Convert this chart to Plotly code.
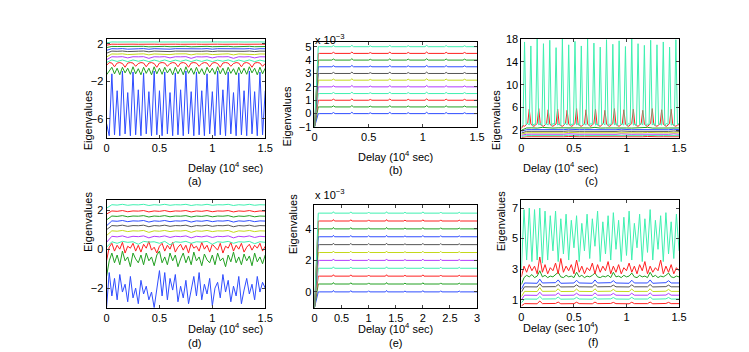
import plotly.graph_objects as go

# ---------------- colours (bottom -> top eigenvalue order) ----------------
BLUE, GREEN, RED, AQUA = "#2f4dff", "#22a022", "#ff2020", "#3ff0b0"
PURPLE, YELLOW, GRAY = "#b23cff", "#c4d81c", "#555555"
ORDER = [BLUE, GREEN, RED, AQUA, PURPLE, YELLOW, GRAY, BLUE, GREEN, RED, AQUA]

STEP_FINE = 0.025
STEP_COARSE = 0.05
STEP_C = 0.015

# ---------------- panel (a) ----------------
A_BLUE1 = [-6.5, -7.8, -1.2, -7.7, -3.0, -7.8, -0.9, -7.6, -3.2, -7.8,
           -1.0, -7.7, -2.9, -7.8, -1.1, -7.6, -3.1, -7.8, -0.9, -7.7,
           -3.0, -7.8, -1.0, -7.6, -3.2, -7.8, -1.1, -7.7, -2.9, -7.8,
           -0.9, -7.6, -3.1, -7.8, -1.0, -7.7, -3.0, -7.8, -1.2, -7.6,
           -3.1, -7.8, -0.9, -7.7, -2.9, -7.8, -1.0, -7.6, -3.2, -7.8,
           -1.1, -7.7, -3.0, -7.8, -0.9, -7.6, -3.1, -7.8, -1.0, -7.7, -3.0]
A_GREEN1 = [-1.3, -0.9, -0.5, -1.2, -0.6, -1.3, -0.5, -1.1, -0.6, -1.25,
            -0.45, -1.2, -0.65, -1.3, -0.5, -1.15, -0.6, -1.3, -0.45, -1.2,
            -0.6, -1.25, -0.5, -1.1, -0.65, -1.3, -0.5, -1.2, -0.6, -1.3,
            -0.45, -1.15, -0.6, -1.25, -0.5, -1.2, -0.65, -1.3, -0.5, -1.1,
            -0.6, -1.25, -0.45, -1.2, -0.6, -1.3, -0.5, -1.15, -0.65, -1.3,
            -0.5, -1.2, -0.6, -1.25, -0.45, -1.1, -0.6, -1.3, -0.5, -1.2, -0.6]
A_RED1 = [-0.3, 0.0, -0.05, -0.45, -0.05, 0.0, -0.1, -0.5, -0.05, 0.0, -0.05, -0.4,
          -0.1, 0.0, -0.05, -0.45, -0.05, 0.0, -0.1, -0.5, -0.05, 0.0, -0.05, -0.4,
          -0.1, 0.0, -0.05, -0.45, -0.05, 0.0, -0.1, -0.5, -0.05, 0.0, -0.05, -0.4,
          -0.1, 0.0, -0.05, -0.45, -0.05, 0.0, -0.1, -0.5, -0.05, 0.0, -0.05, -0.4,
          -0.1, 0.0, -0.05, -0.45, -0.05, 0.0, -0.1, -0.5, -0.05, 0.0, -0.05, -0.4, -0.1]
A_AQUA1 = [0.0, 0.28, 0.12, 0.27, 0.1, 0.28, 0.14, 0.26, 0.1, 0.27, 0.12, 0.28, 0.1, 0.26, 0.13,
           0.28, 0.1, 0.27, 0.12, 0.28, 0.1, 0.26, 0.14, 0.28, 0.1, 0.27, 0.12, 0.28, 0.1, 0.26, 0.13]
A_PURPLE = [0.3, 0.62, 0.6, 0.63, 0.5, 0.62, 0.61, 0.63, 0.45, 0.62, 0.6, 0.63, 0.5, 0.62, 0.61,
            0.63, 0.45, 0.62, 0.6, 0.63, 0.5, 0.62, 0.61, 0.63, 0.45, 0.62, 0.6, 0.63, 0.5, 0.62, 0.61]
A_YELLOW = [0.6, 0.92, 0.9, 0.93, 0.85, 0.92, 0.91, 0.93, 0.82, 0.92, 0.9, 0.93, 0.85, 0.92, 0.91,
            0.93, 0.82, 0.92, 0.9, 0.93, 0.85, 0.92, 0.91, 0.93, 0.82, 0.92, 0.9, 0.93, 0.85, 0.92, 0.91]
A_GRAY = [1.0, 1.22, 1.2, 1.23, 1.17, 1.22, 1.21, 1.23, 1.15, 1.22, 1.2, 1.23, 1.17, 1.22, 1.21,
          1.23, 1.15, 1.22, 1.2, 1.23, 1.17, 1.22, 1.21, 1.23, 1.15, 1.22, 1.2, 1.23, 1.17, 1.22, 1.21]
A_BLUE2 = [1.3, 1.48, 1.46, 1.49, 1.43, 1.48, 1.47, 1.49, 1.42, 1.48, 1.46, 1.49, 1.43, 1.48, 1.47,
           1.49, 1.42, 1.48, 1.46, 1.49, 1.43, 1.48, 1.47, 1.49, 1.42, 1.48, 1.46, 1.49, 1.43, 1.48, 1.47]
A_GREEN2 = [1.6, 1.72, 1.71, 1.73, 1.69, 1.72, 1.71, 1.73, 1.68, 1.72, 1.71, 1.73, 1.69, 1.72, 1.71,
            1.73, 1.68, 1.72, 1.71, 1.73, 1.69, 1.72, 1.71, 1.73, 1.68, 1.72, 1.71, 1.73, 1.69, 1.72, 1.71]
A_RED2 = [1.85, 1.96, 1.95, 1.97, 1.93, 1.96, 1.95, 1.97, 1.92, 1.96, 1.95, 1.97, 1.93, 1.96, 1.95,
          1.97, 1.92, 1.96, 1.95, 1.97, 1.93, 1.96, 1.95, 1.97, 1.92, 1.96, 1.95, 1.97, 1.93, 1.96, 1.95]
A_AQUA2 = [2.1, 2.2, 2.19, 2.21, 2.18, 2.2, 2.19, 2.21, 2.17, 2.2, 2.19, 2.21, 2.18, 2.2, 2.19,
           2.21, 2.17, 2.2, 2.19, 2.21, 2.18, 2.2, 2.19, 2.21, 2.17, 2.2, 2.19, 2.21, 2.18, 2.2, 2.19]

# ---------------- panels (b) and (e): eigenvalues x 1e-3 ----------------
BE_LEVELS = [0.0, 0.5, 1.0, 1.5, 2.0, 2.5, 3.0, 3.5, 4.0, 4.5, 5.0]
BE_START = -1.0
B_X = [0, 0.035, 0.045, 0.16, 0.175, 0.19, 0.33, 0.345, 0.36, 0.5, 0.515, 0.53, 0.68, 0.695,
       0.71, 0.85, 0.865, 0.88, 1.02, 1.035, 1.05, 1.2, 1.215, 1.23, 1.37, 1.385, 1.4, 1.5]
B_RIPPLE = [0, 0, 0, 0.08, 0, 0, 0.1, 0, 0, 0.06, 0, 0, 0.09, 0, 0, 0.07, 0, 0, 0.1, 0,
            0, 0.08, 0, 0, 0.07, 0, 0]
E_X = [0, 0.07, 0.09, 0.33, 0.35, 0.37, 0.65, 0.67, 0.69, 0.98, 1.0, 1.02, 1.31, 1.33, 1.35,
       1.65, 1.67, 1.69, 1.98, 2.0, 2.02, 2.31, 2.33, 2.35, 2.65, 2.67, 2.69, 3.0]
E_RIPPLE = [0, 0, 0, 0.09, 0, 0, 0.08, 0, 0, 0.07, 0, 0, 0.09, 0, 0, 0.06, 0, 0, 0.08, 0,
            0, 0.07, 0, 0, 0.06, 0, 0]

# ---------------- panel (c) ----------------
C_AQUA2 = [2.5, 3.0, 17.5, 3.0, 3.2, 2.9, 16.8, 2.8, 3.1, 3.0, 18.0, 2.9, 3.2, 2.8, 17.2, 3.0,
           3.1, 2.9, 17.8, 2.8, 3.2, 3.0, 16.5, 2.9, 3.1, 2.8, 18.0, 3.0, 3.2, 2.9, 17.0, 2.8,
           3.1, 3.0, 17.6, 2.9, 3.2, 2.8, 16.8, 3.0, 3.1, 2.9, 18.0, 2.8, 3.2, 3.0, 17.3, 2.9,
           3.1, 2.8, 16.6, 3.0, 3.2, 2.9, 17.9, 2.8, 3.1, 3.0, 17.1, 2.9, 3.2, 2.8, 17.7, 3.0,
           3.1, 2.9, 16.7, 2.8, 3.2, 3.0, 18.0, 2.9, 3.1, 2.8, 17.2, 3.0, 3.2, 2.9, 16.9, 2.8,
           3.1, 3.0, 17.8, 2.9, 3.2, 2.8, 17.0, 3.0, 3.1, 2.9, 17.5, 2.8, 3.2, 3.0, 16.6, 2.9,
           3.1, 2.8, 17.9, 3.0, 3.2]
C_RED2 = [2.3,
          2.8, 2.7, 2.9, 3.2, 5.7, 3.1, 2.8, 2.7, 2.9, 3.2, 5.8, 3.0,
          2.8, 2.7, 2.9, 3.2, 5.6, 3.1, 2.8, 2.7, 2.9, 3.1, 5.7, 3.0,
          2.8, 2.7, 2.9, 3.2, 5.5, 3.1, 2.8, 2.7, 2.9, 3.2, 5.8, 3.0,
          2.8, 2.7, 2.9, 3.1, 5.6, 3.1, 2.8, 2.7, 2.9, 3.2, 5.7, 3.0,
          2.8, 2.7, 2.9, 3.2, 5.5, 3.1, 2.8, 2.7, 2.9, 3.2, 5.8, 3.0,
          2.8, 2.7, 2.9, 3.1, 5.6, 3.1, 2.8, 2.7, 2.9, 3.2, 5.7, 3.0,
          2.8, 2.7, 2.9, 3.2, 5.5, 3.1, 2.8, 2.7, 2.9, 3.2, 5.8, 3.0,
          2.8, 2.7, 2.9, 3.1, 5.6, 3.1, 2.8, 2.7, 2.9, 3.2, 5.7, 3.0,
          2.8, 2.7, 2.9, 3.0]
C_GREEN2 = [2.0, 2.4, 2.42, 2.38, 2.5, 2.4, 2.38, 2.42, 2.4, 2.5, 2.38, 2.4, 2.42, 2.4, 2.5, 2.38,
            2.4, 2.42, 2.38, 2.5, 2.4, 2.38, 2.42, 2.4, 2.5, 2.38, 2.4, 2.42, 2.38, 2.5, 2.4]
C_BLUE2 = [1.8, 2.1, 2.11, 2.09, 2.18, 2.1, 2.09, 2.11, 2.1, 2.18, 2.09, 2.1, 2.11, 2.1, 2.18, 2.09,
           2.1, 2.11, 2.09, 2.18, 2.1, 2.09, 2.11, 2.1, 2.18, 2.09, 2.1, 2.11, 2.09, 2.18, 2.1]
C_GRAY = [1.5, 1.8, 1.81, 1.79, 1.87, 1.8, 1.79, 1.81, 1.8, 1.87, 1.79, 1.8, 1.81, 1.8, 1.87, 1.79,
          1.8, 1.81, 1.79, 1.87, 1.8, 1.79, 1.81, 1.8, 1.87, 1.79, 1.8, 1.81, 1.79, 1.87, 1.8]
C_YELLOW = [1.3, 1.55, 1.56, 1.54, 1.62, 1.55, 1.54, 1.56, 1.55, 1.62, 1.54, 1.55, 1.56, 1.55, 1.62,
            1.54, 1.55, 1.56, 1.54, 1.62, 1.55, 1.54, 1.56, 1.55, 1.62, 1.54, 1.55, 1.56, 1.54, 1.62, 1.55]
C_PURPLE = [1.1, 1.3, 1.31, 1.29, 1.37, 1.3, 1.29, 1.31, 1.3, 1.37, 1.29, 1.3, 1.31, 1.3, 1.37, 1.29,
            1.3, 1.31, 1.29, 1.37, 1.3, 1.29, 1.31, 1.3, 1.37, 1.29, 1.3, 1.31, 1.29, 1.37, 1.3]
C_AQUA1 = [0.9, 1.05, 1.06, 1.04, 1.1, 1.05, 1.04, 1.06, 1.05, 1.1, 1.04, 1.05, 1.06, 1.05, 1.1, 1.04,
           1.05, 1.06, 1.04, 1.1, 1.05, 1.04, 1.06, 1.05, 1.1, 1.04, 1.05, 1.06, 1.04, 1.1, 1.05]
C_RED1 = [0.7, 0.85, 0.86, 0.84, 0.9, 0.85, 0.84, 0.86, 0.85, 0.9, 0.84, 0.85, 0.86, 0.85, 0.9, 0.84,
          0.85, 0.86, 0.84, 0.9, 0.85, 0.84, 0.86, 0.85, 0.9, 0.84, 0.85, 0.86, 0.84, 0.9, 0.85]

# ---------------- panel (d) ----------------
D_BLUE1 = [-3.0, -1.2, -2.4, -1.5, -2.6, -1.3, -2.2, -1.8, -2.7, -1.4,
           -2.5, -2.0, -2.8, -1.6, -2.3, -1.9, -2.6, -2.2, -3.0, -2.0,
           -1.1, -2.4, -1.2, -2.6, -1.5, -2.1, -1.3, -2.7, -1.9, -2.5,
           -1.6, -2.8, -2.1, -1.4, -2.4, -1.2, -2.6, -1.8, -2.3, -1.5,
           -2.9, -2.0, -1.7, -2.5, -1.3, -2.2, -1.6, -2.7, -1.9, -2.4,
           -1.4, -2.8, -2.1, -1.5, -2.3, -1.8, -2.6, -1.4, -2.2, -1.7, -2.0]
D_GREEN1 = [-1.4, -0.6, -0.2, -0.7, -0.3, -0.8, -0.1, -0.6, -0.4, -0.9,
            -0.2, -0.5, -0.7, -0.3, -0.8, -0.2, -0.6, -0.4, -0.85, -0.3,
            -0.1, -0.7, -0.4, -0.8, -0.2, -0.6, -0.3, -0.9, -0.5, -0.2,
            -0.7, -0.35, -0.8, -0.15, -0.6, -0.4, -0.85, -0.25, -0.55, -0.7,
            -0.3, -0.8, -0.2, -0.6, -0.45, -0.9, -0.3, -0.65, -0.15, -0.7,
            -0.4, -0.8, -0.25, -0.6, -0.35, -0.85, -0.2, -0.65, -0.4, -0.75, -0.3]
D_RED1 = [-0.6, 0.1, 0.3, -0.1, 0.2, 0.0, 0.35, -0.2, 0.15, 0.05,
          0.3, -0.1, 0.2, -0.15, 0.25, 0.05, 0.4, -0.05, 0.1, -0.2,
          0.15, 0.3, -0.1, 0.2, 0.0, 0.35, -0.15, 0.1, 0.25, -0.05,
          0.2, -0.2, 0.3, 0.05, 0.15, -0.1, 0.35, 0.0, 0.2, -0.15,
          0.25, 0.1, -0.05, 0.3, -0.2, 0.15, 0.05, 0.35, -0.1, 0.2,
          0.0, 0.3, -0.15, 0.1, 0.25, -0.05, 0.2, 0.05, 0.3, -0.1, 0.15]
D_AQUA1 = [0.1, 0.38, 0.3, 0.4, 0.35, 0.38, 0.25, 0.4, 0.36, 0.38, 0.3, 0.4, 0.22, 0.38, 0.35,
           0.4, 0.3, 0.38, 0.36, 0.4, 0.25, 0.38, 0.35, 0.4, 0.3, 0.38, 0.36, 0.4, 0.28, 0.38, 0.35]
D_PURPLE = [0.35, 0.66, 0.63, 0.68, 0.6, 0.66, 0.64, 0.68, 0.58, 0.66, 0.63, 0.68, 0.6, 0.66, 0.64,
            0.68, 0.58, 0.66, 0.63, 0.68, 0.6, 0.66, 0.64, 0.68, 0.58, 0.66, 0.63, 0.68, 0.6, 0.66, 0.64]
D_YELLOW = [0.7, 0.94, 0.92, 0.96, 0.9, 0.94, 0.93, 0.96, 0.86, 0.94, 0.92, 0.96, 0.9, 0.94, 0.93,
            0.96, 0.86, 0.94, 0.92, 0.96, 0.9, 0.94, 0.93, 0.96, 0.86, 0.94, 0.92, 0.96, 0.9, 0.94, 0.93]
D_GRAY = [1.0, 1.21, 1.19, 1.23, 1.17, 1.21, 1.2, 1.23, 1.15, 1.21, 1.19, 1.23, 1.17, 1.21, 1.2,
          1.23, 1.15, 1.21, 1.19, 1.23, 1.17, 1.21, 1.2, 1.23, 1.15, 1.21, 1.19, 1.23, 1.17, 1.21, 1.2]
D_BLUE2 = [1.2, 1.45, 1.43, 1.47, 1.41, 1.45, 1.44, 1.47, 1.39, 1.45, 1.43, 1.47, 1.41, 1.45, 1.44,
           1.47, 1.39, 1.45, 1.43, 1.47, 1.41, 1.45, 1.44, 1.47, 1.39, 1.45, 1.43, 1.47, 1.41, 1.45, 1.44]
D_GREEN2 = [1.5, 1.7, 1.68, 1.72, 1.66, 1.7, 1.69, 1.72, 1.65, 1.7, 1.68, 1.72, 1.66, 1.7, 1.69,
            1.72, 1.65, 1.7, 1.68, 1.72, 1.66, 1.7, 1.69, 1.72, 1.65, 1.7, 1.68, 1.72, 1.66, 1.7, 1.69]
D_RED2 = [1.8, 1.96, 1.94, 1.98, 1.92, 1.96, 1.95, 1.98, 1.91, 1.96, 1.94, 1.98, 1.92, 1.96, 1.95,
          1.98, 1.91, 1.96, 1.94, 1.98, 1.92, 1.96, 1.95, 1.98, 1.91, 1.96, 1.94, 1.98, 1.92, 1.96, 1.95]
D_AQUA2 = [2.1, 2.28, 2.26, 2.3, 2.25, 2.28, 2.27, 2.3, 2.24, 2.28, 2.26, 2.3, 2.25, 2.28, 2.27,
           2.3, 2.24, 2.28, 2.26, 2.3, 2.25, 2.28, 2.27, 2.3, 2.24, 2.28, 2.26, 2.3, 2.25, 2.28, 2.27]

# ---------------- panel (f) ----------------
F_AQUA2 = [3.0, 6.9, 3.6, 7.0, 3.5, 6.9, 3.6, 7.0, 3.4, 6.8,
           3.6, 6.5, 4.2, 6.8, 3.5, 6.3, 4.0, 6.6, 3.6, 6.2,
           4.4, 6.5, 3.5, 6.0, 4.2, 6.6, 3.7, 6.3, 4.5, 6.8,
           3.5, 6.1, 4.0, 6.5, 3.6, 6.7, 4.3, 6.2, 3.5, 6.4,
           3.9, 6.8, 3.6, 6.0, 4.4, 6.6, 3.5, 6.3, 4.1, 6.9,
           3.6, 6.2, 4.3, 6.5, 3.5, 6.7, 4.0, 6.1, 3.7, 6.6, 4.2]
F_RED2 = [2.5, 3.2, 2.8, 3.3, 2.9, 3.2, 2.7, 3.8, 2.8, 3.3,
          2.7, 3.1, 2.9, 3.4, 2.7, 3.7, 2.8, 3.2, 2.9, 3.3,
          2.7, 3.6, 2.8, 3.2, 2.7, 3.1, 2.9, 3.4, 2.7, 3.3,
          2.8, 3.2, 2.9, 3.5, 2.7, 3.2, 2.8, 3.3, 2.7, 3.1,
          2.9, 3.4, 2.8, 3.2, 2.7, 3.3, 2.9, 3.5, 2.7, 3.2,
          2.8, 3.1, 2.9, 3.6, 2.7, 3.2, 2.8, 3.3, 2.7, 3.1, 2.9]
F_GREEN2 = [2.0, 2.45, 2.6, 2.5, 2.65, 2.45, 2.55, 2.9, 2.5, 2.6,
            2.45, 2.55, 2.5, 2.65, 2.8, 2.5, 2.45, 2.6, 2.5, 2.55,
            2.45, 2.8, 2.5, 2.6, 2.45, 2.55, 2.5, 2.6, 2.75, 2.5,
            2.45, 2.55, 2.5, 2.6, 2.45, 2.8, 2.5, 2.55, 2.45, 2.6,
            2.5, 2.55, 2.75, 2.5, 2.45, 2.6, 2.5, 2.55, 2.45, 2.8,
            2.5, 2.6, 2.45, 2.55, 2.5, 2.6, 2.75, 2.5, 2.45, 2.55, 2.5]
F_SX = [0, 0.03, 0.15, 0.175, 0.2, 0.325, 0.35, 0.375, 0.5, 0.525, 0.55, 0.675, 0.7, 0.725,
        0.85, 0.875, 0.9, 1.025, 1.05, 1.075, 1.2, 1.225, 1.25, 1.375, 1.4, 1.425, 1.5]
F_BLUE2 = [1.7, 2.1, 2.08, 2.35, 2.1, 2.12, 2.3, 2.08, 2.1, 2.28, 2.1, 2.08, 2.3, 2.1,
           2.12, 2.25, 2.1, 2.08, 2.28, 2.1, 2.1, 2.3, 2.08, 2.12, 2.25, 2.1, 2.1]
F_GRAY = [1.5, 1.85, 1.84, 2.05, 1.85, 1.86, 2.0, 1.84, 1.85, 1.98, 1.85, 1.84, 2.0, 1.85,
          1.86, 1.96, 1.85, 1.84, 1.98, 1.85, 1.85, 2.0, 1.84, 1.86, 1.96, 1.85, 1.85]
F_YELLOW = [1.2, 1.55, 1.54, 1.8, 1.55, 1.56, 1.72, 1.54, 1.55, 1.7, 1.55, 1.54, 1.72, 1.55,
            1.56, 1.68, 1.55, 1.54, 1.7, 1.55, 1.55, 1.72, 1.54, 1.56, 1.68, 1.55, 1.55]
F_PURPLE = [1.0, 1.3, 1.29, 1.5, 1.3, 1.31, 1.45, 1.29, 1.3, 1.43, 1.3, 1.29, 1.45, 1.3,
            1.31, 1.42, 1.3, 1.29, 1.43, 1.3, 1.3, 1.45, 1.29, 1.31, 1.42, 1.3, 1.3]
F_AQUA1 = [0.8, 1.05, 1.04, 1.22, 1.05, 1.06, 1.18, 1.04, 1.05, 1.16, 1.05, 1.04, 1.18, 1.05,
           1.06, 1.15, 1.05, 1.04, 1.16, 1.05, 1.05, 1.18, 1.04, 1.06, 1.15, 1.05, 1.05]
F_RED1 = [0.6, 0.75, 0.74, 0.92, 0.75, 0.76, 0.85, 0.74, 0.75, 0.84, 0.75, 0.74, 0.85, 0.75,
          0.76, 0.83, 0.75, 0.74, 0.84, 0.75, 0.75, 0.85, 0.74, 0.76, 0.83, 0.75, 0.75]

# ---------------- tick labels ----------------
X_TICKS = [0, 0.5, 1, 1.5]
E_X_TICKS = [0, 0.5, 1, 1.5, 2, 2.5, 3]
Y_TICKS = {"a": [-6, -2, 2], "b": [-1, 0, 1, 2, 3, 4, 5], "c": [2, 6, 10, 14, 18],
           "d": [-2, 0, 2], "e": [0, 2, 4], "f": [1, 3, 5, 7]}
Y_RANGE = {"a": [-8, 2.5], "b": [-1, 5.35], "c": [0.7, 18], "d": [-3, 2.5],
           "e": [-1, 5.5], "f": [0.55, 7.5]}
X_RANGE = {"a": [0, 1.5], "b": [0, 1.5], "c": [0, 1.5], "d": [0, 1.5], "e": [0, 3], "f": [0, 1.5]}
X_TITLE = {"a": "Delay (10<sup>4</sup> sec)", "b": "Delay (10<sup>4</sup> sec)",
           "c": "Delay (10<sup>4</sup> sec)", "d": "Delay (10<sup>4</sup> sec)",
           "e": "Delay (10<sup>4</sup> sec)", "f": "Delay (sec 10<sup>4</sup>)"}

W, H = 749, 352
# panel boxes in pixels: left, right, top, bottom
BOX = {"a": (97, 258, 26, 128), "b": (308, 473, 29, 117), "c": (518, 678, 26, 128),
       "d": (97, 258, 193, 304), "e": (308, 473, 198, 304), "f": (518, 678, 193, 303)}
YLAB_X = {"a": 70, "b": 280, "c": 493, "d": 70, "e": 287, "f": 497}

fig = go.Figure()
AX = {"a": ("x", "y"), "b": ("x2", "y2"), "c": ("x3", "y3"),
      "d": ("x4", "y4"), "e": ("x5", "y5"), "f": ("x6", "y6")}


def xs(n, step):
    return [round(i * step, 4) for i in range(n)]


def add(panel, x, y, color):
    xa, ya = AX[panel]
    n = min(len(x), len(y))
    fig.add_trace(go.Scatter(x=x[:n], y=y[:n], mode="lines", xaxis=xa, yaxis=ya,
                             line=dict(color=color, width=1), showlegend=False,
                             hoverinfo="skip"))


# (a)
add("a", xs(len(A_BLUE1), STEP_FINE), A_BLUE1, BLUE)
add("a", xs(len(A_GREEN1), STEP_FINE), A_GREEN1, GREEN)
add("a", xs(len(A_RED1), STEP_FINE), A_RED1, RED)
for ys, col in [(A_AQUA1, AQUA), (A_PURPLE, PURPLE), (A_YELLOW, YELLOW), (A_GRAY, GRAY),
                (A_BLUE2, BLUE), (A_GREEN2, GREEN), (A_RED2, RED), (A_AQUA2, AQUA)]:
    add("a", xs(len(ys), STEP_COARSE), ys, col)

# (b) and (e)
for lvl, col in zip(BE_LEVELS, ORDER):
    add("b", B_X, [BE_START] + [lvl + r for r in B_RIPPLE], col)
    add("e", E_X, [BE_START] + [lvl + r for r in E_RIPPLE], col)

# (c)
for ys, col in [(C_RED1, RED), (C_AQUA1, AQUA), (C_PURPLE, PURPLE), (C_YELLOW, YELLOW),
                (C_GRAY, GRAY), (C_BLUE2, BLUE), (C_GREEN2, GREEN)]:
    add("c", xs(len(ys), STEP_COARSE), ys, col)
add("c", xs(len(C_RED2), STEP_C), C_RED2, RED)
add("c", xs(len(C_AQUA2), STEP_C), C_AQUA2, AQUA)

# (d)
add("d", xs(len(D_BLUE1), STEP_FINE), D_BLUE1, BLUE)
add("d", xs(len(D_GREEN1), STEP_FINE), D_GREEN1, GREEN)
add("d", xs(len(D_RED1), STEP_FINE), D_RED1, RED)
for ys, col in [(D_AQUA1, AQUA), (D_PURPLE, PURPLE), (D_YELLOW, YELLOW), (D_GRAY, GRAY),
                (D_BLUE2, BLUE), (D_GREEN2, GREEN), (D_RED2, RED), (D_AQUA2, AQUA)]:
    add("d", xs(len(ys), STEP_COARSE), ys, col)

# (f)
for ys, col in [(F_RED1, RED), (F_AQUA1, AQUA), (F_PURPLE, PURPLE), (F_YELLOW, YELLOW),
                (F_GRAY, GRAY), (F_BLUE2, BLUE)]:
    add("f", F_SX, ys, col)
add("f", xs(len(F_GREEN2), STEP_FINE), F_GREEN2, GREEN)
add("f", xs(len(F_RED2), STEP_FINE), F_RED2, RED)
add("f", xs(len(F_AQUA2), STEP_FINE), F_AQUA2, AQUA)

FONT = "Liberation Sans, Arial, Helvetica, sans-serif"
layout = dict(width=W, height=H, margin=dict(l=0, r=0, t=0, b=0),
              paper_bgcolor="white", plot_bgcolor="white",
              font=dict(family=FONT, size=11, color="black"), showlegend=False)
annotations = []
for i, p in enumerate("abcdef"):
    l, r, t, b = BOX[p]
    sfx = "" if i == 0 else str(i + 1)
    layout["xaxis" + sfx] = dict(
        domain=[l / W, r / W], anchor="y" + sfx, range=X_RANGE[p],
        tickvals=E_X_TICKS if p == "e" else X_TICKS, ticks="inside", ticklen=3,
        showline=True, mirror="ticks", linecolor="black", linewidth=1,
        showgrid=False, zeroline=False, tickfont=dict(family=FONT, size=11))
    layout["yaxis" + sfx] = dict(
        domain=[1 - b / H, 1 - t / H], anchor="x" + sfx, range=Y_RANGE[p],
        tickvals=Y_TICKS[p], ticks="inside", ticklen=3,
        showline=True, mirror="ticks", linecolor="black", linewidth=1,
        showgrid=False, zeroline=False, tickfont=dict(family=FONT, size=11))
    cx = (l + r) / 2
    annotations.append(dict(text="Eigenvalues", x=YLAB_X[p] / W, y=1 - (t + b) / 2 / H,
                            xref="paper", yref="paper", showarrow=False, textangle=-90,
                            font=dict(family=FONT, size=11)))
    annotations.append(dict(text=X_TITLE[p], x=cx / W, y=1 - (b + 30.5) / H,
                            xref="paper", yref="paper", showarrow=False,
                            font=dict(family=FONT, size=11)))
    annotations.append(dict(text="(" + p + ")", x=cx / W, y=1 - (b + 44.5) / H,
                            xref="paper", yref="paper", showarrow=False,
                            font=dict(family=FONT, size=11)))
    if p in "be":
        annotations.append(dict(text="x 10<sup>−3</sup>", x=(l - 2) / W, y=1 - (t - 12) / H,
                                xref="paper", yref="paper", showarrow=False, xanchor="left",
                                font=dict(family=FONT, size=11)))
layout["annotations"] = annotations
fig.update_layout(**layout)
fig.write_html("out.html")
